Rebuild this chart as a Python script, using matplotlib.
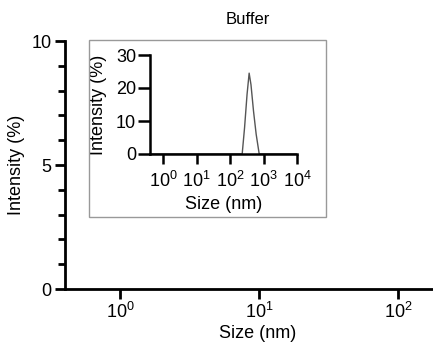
import matplotlib
matplotlib.use("Agg")
import matplotlib.pyplot as plt
from matplotlib.patches import Rectangle
from matplotlib.ticker import FixedLocator, MultipleLocator, NullLocator

plt.rcParams['font.family'] = ['Liberation Sans', 'DejaVu Sans']
plt.rcParams['mathtext.fontset'] = 'custom'
plt.rcParams['mathtext.rm'] = 'Liberation Sans'
plt.rcParams['mathtext.it'] = 'Liberation Sans'

# DLS size distribution of the buffer
size_nm = [0.4, 1, 10, 100, 229, 270, 320, 370, 420, 500, 600, 740, 1000, 10000]
intensity = [0, 0, 0, 0, 0, 8, 18, 24.5, 21, 13, 6, 0, 0, 0]

main_xticks = [1, 10, 100]
main_xlabels = [r'$10^{0}$', r'$10^{1}$', r'$10^{2}$']
inset_xticks = [1, 10, 100, 1000, 10000]
inset_xlabels = [r'$10^{0}$', r'$10^{1}$', r'$10^{2}$', r'$10^{3}$', r'$10^{4}$']

fig = plt.figure(figsize=(4.33, 3.52), dpi=100)

# main axes (runs a bit past the right edge, as in the original)
ax = fig.add_axes([65/433, 1-289/352, 385/433, 248/352])
ax.plot(size_nm, intensity, color='#555555', lw=1)
ax.set_xscale('log')
ax.set_xlim(0.4, 237)
ax.set_ylim(0, 10)
ax.spines['top'].set_visible(False)
ax.spines['right'].set_visible(False)
for s in ['left', 'bottom']:
    ax.spines[s].set_linewidth(2)
ax.xaxis.set_major_locator(FixedLocator(main_xticks))
ax.set_xticklabels(main_xlabels)
ax.xaxis.set_minor_locator(NullLocator())
ax.yaxis.set_major_locator(FixedLocator([0, 5, 10]))
ax.yaxis.set_minor_locator(MultipleLocator(1))
ax.tick_params(axis='both', which='major', length=7.5, width=2, labelsize=13, pad=2)
ax.tick_params(axis='y', which='minor', length=5, width=2)
ax.set_xlabel('Size (nm)', fontsize=13, labelpad=2)
ax.set_ylabel('Intensity (%)', fontsize=13)
ax.yaxis.set_label_coords(-0.104, 0.5)
ax.text(248/433, 1-20/352, 'Buffer', transform=fig.transFigure,
        ha='center', va='center', fontsize=12)

# inset frame
fig.patches.append(Rectangle((89/433, 1-217/352), 237/433, 177/352,
                             transform=fig.transFigure, fill=False,
                             edgecolor='#999999', lw=1))

# inset axes
ins = fig.add_axes([150/433, 1-154/352, 147/433, 99/352])
ins.plot(size_nm, intensity, color='#555555', lw=1)
ins.set_xscale('log')
ins.set_xlim(0.4, 10000)
ins.set_ylim(0, 30)
ins.spines['top'].set_visible(False)
ins.spines['right'].set_visible(False)
for s in ['left', 'bottom']:
    ins.spines[s].set_linewidth(1.8)
ins.xaxis.set_major_locator(FixedLocator(inset_xticks))
ins.set_xticklabels(inset_xlabels)
ins.xaxis.set_minor_locator(NullLocator())
ins.yaxis.set_major_locator(FixedLocator([0, 10, 20, 30]))
ins.tick_params(axis='x', which='major', length=7, width=1.8, labelsize=13, pad=5)
ins.tick_params(axis='y', which='major', length=9, width=1.8, labelsize=13, pad=1)
ins.set_xlabel('Size (nm)', fontsize=13)
ins.xaxis.set_label_coords(0.5, -0.42)
ins.set_ylabel('Intensity (%)', fontsize=13)
ins.yaxis.set_label_coords(-0.29, 0.5)

fig.savefig('out.png', dpi=100)
